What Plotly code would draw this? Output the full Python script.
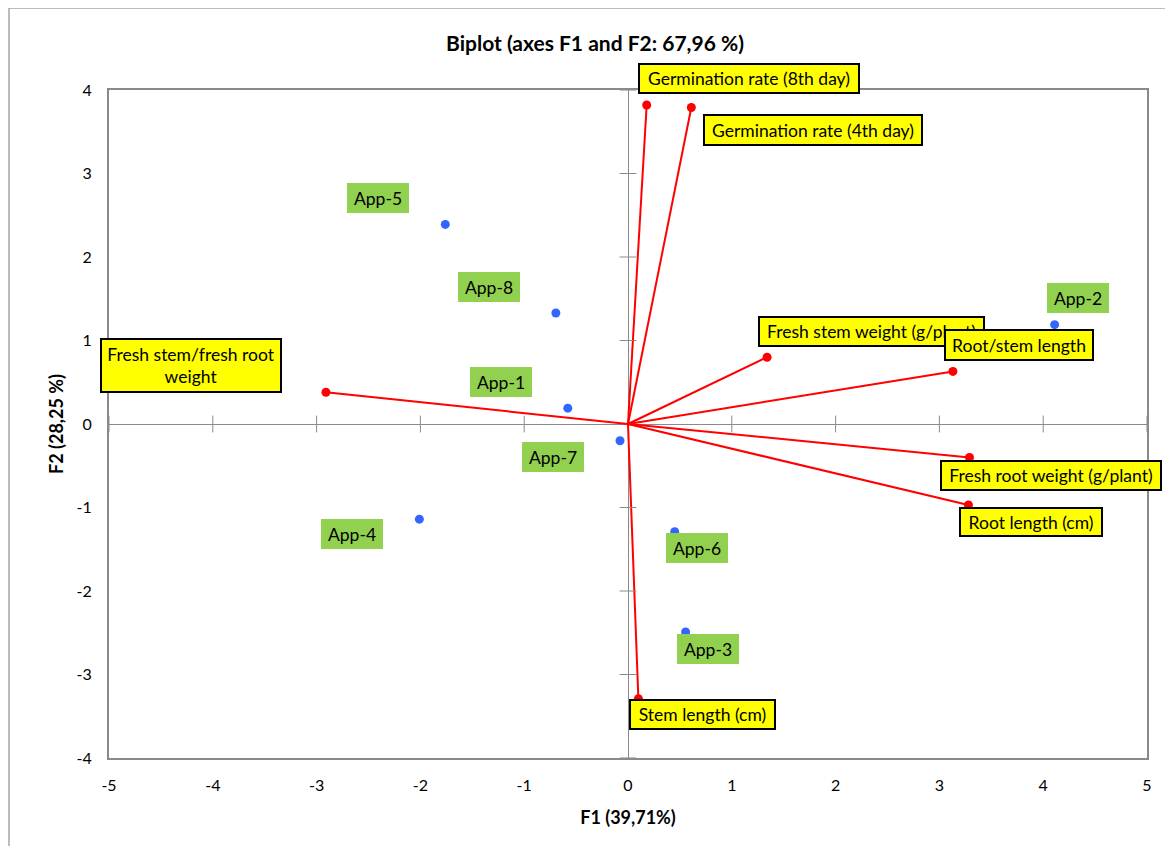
import plotly.graph_objects as go

# ---- data ----
obs_names = ["App-1", "App-2", "App-3", "App-4", "App-5", "App-6", "App-7", "App-8"]
obs_f1 = [-0.58, 4.11, 0.555, -2.01, -1.76, 0.45, -0.077, -0.695]
obs_f2 = [0.19, 1.19, -2.49, -1.14, 2.39, -1.29, -0.20, 1.33]

var_names = ["Germination rate (8th day)", "Germination rate (4th day)",
             "Fresh stem weight (g/plant)", "Root/stem length",
             "Fresh root weight (g/plant)", "Root length (cm)",
             "Stem length (cm)", "Fresh stem/fresh root<br>weight"]
var_f1 = [0.18, 0.61, 1.34, 3.13, 3.29, 3.28, 0.10, -2.91]
var_f2 = [3.82, 3.79, 0.80, 0.63, -0.40, -0.97, -3.29, 0.38]

x_ticks = [-5, -4, -3, -2, -1, 0, 1, 2, 3, 4, 5]
y_ticks = [-4, -3, -2, -1, 0, 1, 2, 3, 4]

# ---- label placement (pixel offsets of box centre from point, box size) ----
obs_label = {  # dx, dy(up)
    "App-1": (-67, 26), "App-2": (23, 27), "App-3": (22, -17), "App-4": (-67, -15),
    "App-5": (-67, 26), "App-6": (22, -16), "App-7": (-67, -16), "App-8": (-67, 26),
}
var_label = [  # dx, dy(up), width, height
    (102, 26.5, 222, 31), (122, -22, 220, 32), (104, 26, 227, 31), (66, 26, 150, 32),
    (81, -18, 222, 31), (63, -17, 144, 30), (64, -16, 147, 31), (-135, 27, 182, 55),
]

FONT = "Lato"
GRAY = "#8a8a8a"
LBL = 17.5

fig = go.Figure()

# vectors
lx, ly = [], []
for a, b in zip(var_f1, var_f2):
    lx += [0, a, None]
    ly += [0, b, None]
fig.add_trace(go.Scatter(x=lx, y=ly, mode="lines", line=dict(color="#ff0000", width=2),
                         hoverinfo="skip", showlegend=False))

# zero-axis crossing ticks
fig.add_trace(go.Scatter(x=[t for t in x_ticks if t != 0], y=[0] * (len(x_ticks) - 1),
                         mode="markers", marker=dict(symbol="line-ns-open", size=12, color=GRAY,
                         line=dict(color=GRAY, width=1)), hoverinfo="skip", showlegend=False))
fig.add_trace(go.Scatter(x=[0] * (len(y_ticks) - 1), y=[t for t in y_ticks if t != 0],
                         mode="markers", marker=dict(symbol="line-ew-open", size=12, color=GRAY,
                         line=dict(color=GRAY, width=1)), hoverinfo="skip", showlegend=False))

fig.add_trace(go.Scatter(x=var_f1, y=var_f2, mode="markers",
                         marker=dict(color="#ff0000", size=9), hoverinfo="skip", showlegend=False))
fig.add_trace(go.Scatter(x=obs_f1, y=obs_f2, mode="markers",
                         marker=dict(color="#3366ff", size=9), hoverinfo="skip", showlegend=False))

anns = []
for n, a, b in zip(obs_names, obs_f1, obs_f2):
    dx, dy = obs_label[n]
    anns.append(dict(x=a, y=b, xref="x", yref="y", text=n, showarrow=False,
                     xshift=dx, yshift=dy, xanchor="center", yanchor="middle",
                     bgcolor="#92d050", borderwidth=0, borderpad=0, width=62, height=30,
                     font=dict(family=FONT, size=LBL, color="black")))
for n, a, b, (dx, dy, w, h) in zip(var_names, var_f1, var_f2, var_label):
    anns.append(dict(x=a, y=b, xref="x", yref="y", text=n, showarrow=False,
                     xshift=dx, yshift=dy, xanchor="center", yanchor="middle",
                     bgcolor="#ffff00", bordercolor="black", borderwidth=2, borderpad=0,
                     width=w - 4, height=h - 4, align="center",
                     font=dict(family=FONT, size=LBL, color="black")))

# page has an 8px body margin; place plot area at screen 109..1147 x 90..758
OFF = 8
W, H = 1157, 838
L, T = 109 - OFF, 90 - OFF
R = W - (1147 - OFF)
B = H - (758 - OFF)
pw, ph = W - L - R, H - T - B
shapes = [dict(type="rect", xref="paper", yref="paper",
               x0=(9 - OFF - L) / pw, x1=(W + 20 - L) / pw,
               y0=-(B + 20) / ph, y1=1 + (T - (8 - OFF)) / ph,
               line=dict(color="#a6a6a6", width=1.5), fillcolor="rgba(0,0,0,0)", layer="below")]

fig.update_layout(
    width=W, height=H, margin=dict(l=L, r=R, t=T, b=B),
    paper_bgcolor="white", plot_bgcolor="white",
    showlegend=False, annotations=anns, shapes=shapes,
    title=dict(text="<b>Biplot (axes F1 and F2: 67,96 %)</b>", x=(595 - OFF) / W, xanchor="center",
               y=1 - (44 - OFF) / H, yanchor="middle", font=dict(family=FONT, size=21, color="black")),
    font=dict(family=FONT, size=16, color="black"),
)
fig.update_xaxes(range=[-5, 5], tickvals=x_ticks, ticktext=[str(t) for t in x_ticks],
                 showgrid=False, zeroline=True,
                 zerolinecolor=GRAY, zerolinewidth=1, showline=True, linecolor=GRAY,
                 linewidth=2, mirror=True, ticks="", ticklabelstandoff=12,
                 tickfont=dict(color="black"),
                 title=dict(text="<b>F1 (39,71%)</b>", standoff=18,
                            font=dict(family=FONT, size=18)))
fig.update_yaxes(range=[-4, 4], tickvals=y_ticks, ticktext=[str(t) for t in y_ticks],
                 showgrid=False, zeroline=True,
                 zerolinecolor=GRAY, zerolinewidth=1, showline=True, linecolor=GRAY,
                 linewidth=2, mirror=True, ticks="", ticklabelstandoff=12,
                 tickfont=dict(color="black"),
                 title=dict(text="<b>F2 (28,25 %)</b>", standoff=8,
                            font=dict(family=FONT, size=18)))

fig.write_html("out.html")
